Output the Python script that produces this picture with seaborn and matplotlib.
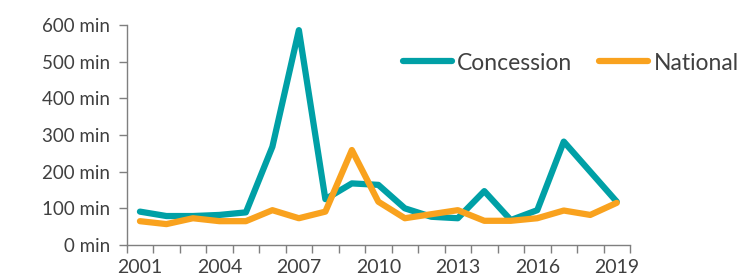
import matplotlib
matplotlib.use("Agg")
import matplotlib.pyplot as plt
import seaborn as sns
import pandas as pd
import numpy as np

years = list(range(2001, 2020))
concession = [91, 79, 79, 82, 89, 268, 586, 125, 168, 164, 100, 77, 73, 147, 68, 95, 282, 200, 118]
national = [65, 57, 73, 65, 65, 95, 73, 91, 259, 118, 73, 84, 95, 66, 66, 73, 94, 82, 115]
series_names = ["Concession", "National"]
colors = ["#00A0A6", "#F9A21E"]
y_ticks = [0, 100, 200, 300, 400, 500, 600]
x_labels = [2001, 2004, 2007, 2010, 2013, 2016, 2019]

df = pd.DataFrame({
    "year": years * 2,
    "value": concession + national,
    "series": [series_names[0]] * len(years) + [series_names[1]] * len(years),
})

sns.set_theme(style="white")
plt.rcParams["font.family"] = ["Lato", "DejaVu Sans"]
text_color = "#404040"
axis_color = "#7f7f7f"

fig = plt.figure(figsize=(7.42, 2.80), dpi=100)
ax = fig.add_axes([126.7 / 742, 1 - 245 / 280, (630 - 126.7) / 742, 220 / 280])

sns.lineplot(data=df, x="year", y="value", hue="series", palette=colors,
             linewidth=4.5, ax=ax, legend=True)

ax.set_xlim(2000.5, 2019.5)
ax.set_ylim(0, 600)
ax.set_yticks(y_ticks)
ax.set_yticklabels([f"{v} min" for v in y_ticks])
ax.set_xticks(x_labels)
ax.set_xticklabels([str(v) for v in x_labels])
ax.set_xticks(np.arange(2000.5, 2020, 1), minor=True)
ax.tick_params(axis="x", which="major", length=0, labelsize=14, labelcolor=text_color, pad=10)
ax.tick_params(axis="x", which="minor", length=6, width=1, color=axis_color, direction="out", bottom=True)
ax.tick_params(axis="y", which="major", length=6, width=1, color=axis_color, direction="out",
               left=True, labelsize=13.5, labelcolor=text_color, pad=6)
ax.set_xlabel("")
ax.set_ylabel("")
for s in ["top", "right"]:
    ax.spines[s].set_visible(False)
for s in ["left", "bottom"]:
    ax.spines[s].set_color(axis_color)
    ax.spines[s].set_linewidth(1)

handles, labels = ax.get_legend_handles_labels()
ax.get_legend().remove()
leg = fig.legend(handles, labels, loc="center left", bbox_to_anchor=(403 / 742, 1 - 63 / 280),
                 ncol=2, frameon=False, fontsize=16.5, handlelength=2.14, handletextpad=0.22,
                 columnspacing=1.18, borderpad=0, borderaxespad=0)
for t in leg.get_texts():
    t.set_color(text_color)
for h in leg.get_lines():
    h.set_linewidth(4.5)

fig.savefig("out.png", dpi=100)
